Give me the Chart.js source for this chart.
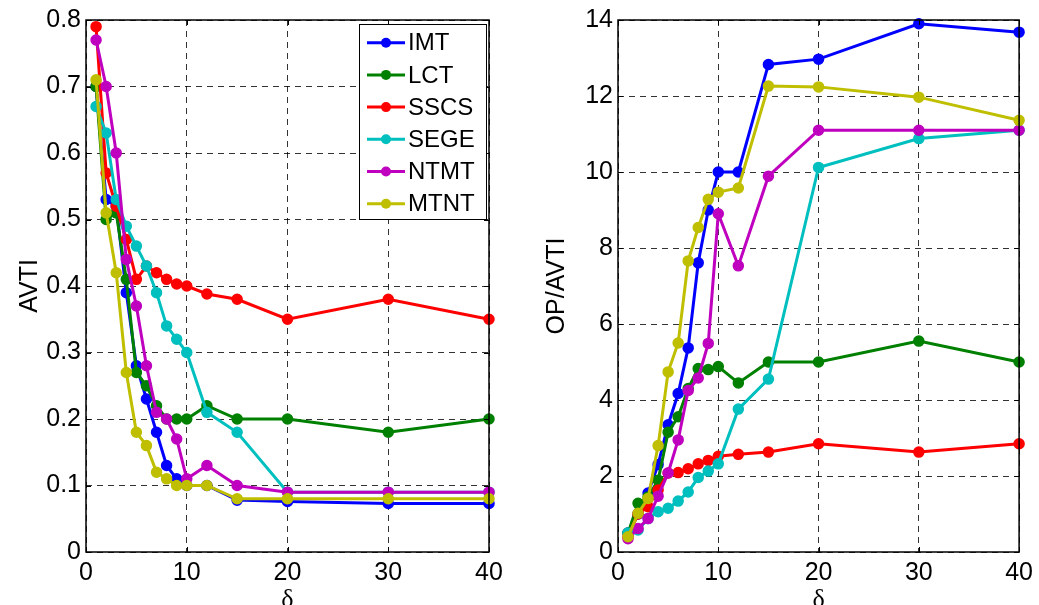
<!DOCTYPE html>
<html>
<head>
<meta charset="utf-8">
<script src="https://cdn.jsdelivr.net/npm/chart.js@4.4.0/dist/chart.umd.min.js"></script>
<style>
  body { margin: 0; background: #fff; }
  #wrap { position: relative; width: 1039px; height: 605px; overflow: hidden; }
  #wrap canvas { position: absolute; top: 0; }
</style>
</head>
<body>
<div id="wrap">
  <canvas id="avtiChart" width="519" height="605" style="left:0"></canvas>
  <canvas id="ratioChart" width="520" height="605" style="left:519px"></canvas>
</div>
<script>
// delta values on the x axis
const delta = [1, 2, 3, 4, 5, 6, 7, 8, 9, 10, 12, 15, 20, 30, 40];
const methods = ['IMT', 'LCT', 'SSCS', 'SEGE', 'NTMT', 'MTNT'];
const colors = ['#0000ff', '#008000', '#ff0000', '#00bfbf', '#bf00bf', '#bfbf00'];

// AVTI per method
const avtiIMT  = [0.70, 0.53, 0.52, 0.39, 0.28, 0.23, 0.18, 0.13, 0.11, 0.10, 0.10, 0.078, 0.076, 0.073, 0.073];
const avtiLCT  = [0.70, 0.50, 0.51, 0.41, 0.27, 0.25, 0.22, 0.20, 0.20, 0.20, 0.22, 0.20, 0.20, 0.18, 0.20];
const avtiSSCS = [0.79, 0.57, 0.52, 0.47, 0.41, 0.43, 0.42, 0.41, 0.403, 0.40, 0.388, 0.38, 0.35, 0.38, 0.35];
const avtiSEGE = [0.67, 0.63, 0.53, 0.49, 0.46, 0.43, 0.39, 0.34, 0.32, 0.30, 0.21, 0.18, 0.09, 0.09, 0.09];
const avtiNTMT = [0.77, 0.70, 0.60, 0.44, 0.37, 0.28, 0.21, 0.20, 0.17, 0.11, 0.13, 0.10, 0.09, 0.09, 0.09];
const avtiMTNT = [0.71, 0.51, 0.42, 0.27, 0.18, 0.16, 0.12, 0.11, 0.10, 0.10, 0.10, 0.08, 0.08, 0.08, 0.08];

// OP/AVTI per method
const ratioIMT  = [0.50, 1.00, 1.55, 2.30, 3.35, 4.17, 5.37, 7.61, 9.00, 10.00, 10.00, 12.83, 12.97, 13.90, 13.68];
const ratioLCT  = [0.50, 1.28, 1.45, 1.89, 3.15, 3.56, 4.30, 4.83, 4.80, 4.88, 4.45, 5.00, 5.00, 5.55, 5.00];
const ratioSSCS = [0.40, 1.00, 1.19, 1.63, 2.08, 2.09, 2.19, 2.32, 2.41, 2.52, 2.57, 2.63, 2.85, 2.63, 2.85];
const ratioSEGE = [0.50, 0.58, 0.88, 1.06, 1.15, 1.34, 1.58, 1.96, 2.13, 2.32, 3.76, 4.55, 10.12, 10.88, 11.10];
const ratioNTMT = [0.35, 0.62, 0.88, 1.47, 2.08, 2.95, 4.25, 4.58, 5.49, 8.90, 7.53, 9.89, 11.10, 11.10, 11.10];
const ratioMTNT = [0.40, 1.02, 1.41, 2.80, 4.74, 5.50, 7.66, 8.54, 9.28, 9.47, 9.58, 12.26, 12.24, 11.97, 11.36];

const avtiSeries = [avtiIMT, avtiLCT, avtiSSCS, avtiSEGE, avtiNTMT, avtiMTNT];
const ratioSeries = [ratioIMT, ratioLCT, ratioSSCS, ratioSEGE, ratioNTMT, ratioMTNT];

const sans = 'Liberation Sans, Arial, sans-serif';

function makeDatasets(series) {
    return series.map(function (values, i) {
        return {
            label: methods[i],
            data: values.map(function (v, k) { return {x: delta[k], y: v}; }),
            borderColor: colors[i],
            backgroundColor: colors[i],
            pointBackgroundColor: colors[i],
            borderWidth: 3,
            pointRadius: 5,
            pointBorderWidth: 1.5,
            fill: false,
            clip: false,
            order: series.length - 1 - i
        };
    });
}

// box around the plot area plus inward tick marks on every side
const frame = {
    id: 'frame',
    afterDraw(chart) {
        const ctx = chart.ctx;
        const a = chart.chartArea;
        const sx = chart.scales.x, sy = chart.scales.y;
        ctx.save();
        ctx.strokeStyle = '#000';
        ctx.lineWidth = 1;
        ctx.beginPath();
        sx.ticks.forEach(function (t) {
            const px = Math.round(sx.getPixelForValue(t.value)) + 0.5;
            ctx.moveTo(px, a.bottom); ctx.lineTo(px, a.bottom - 5);
            ctx.moveTo(px, a.top); ctx.lineTo(px, a.top + 5);
        });
        sy.ticks.forEach(function (t) {
            const py = Math.round(sy.getPixelForValue(t.value)) + 0.5;
            ctx.moveTo(a.left, py); ctx.lineTo(a.left + 5, py);
            ctx.moveTo(a.right, py); ctx.lineTo(a.right - 5, py);
        });
        ctx.stroke();
        ctx.lineWidth = 1.5;
        ctx.strokeRect(a.left, a.top, a.right - a.left, a.bottom - a.top);
        ctx.restore();
    }
};

// legend box in the upper right of the AVTI plot
const legendBox = {
    id: 'legendBox',
    afterDraw(chart) {
        const ctx = chart.ctx;
        const x = 359, y = 24, w = 127, h = 195, row = 32.2;
        ctx.save();
        ctx.fillStyle = '#fff';
        ctx.fillRect(x, y, w, h);
        ctx.strokeStyle = '#000';
        ctx.lineWidth = 1;
        ctx.strokeRect(x + 0.5, y + 0.5, w, h);
        ctx.font = '24px ' + sans;
        ctx.textBaseline = 'middle';
        chart.data.datasets.forEach(function (ds, i) {
            const cy = y + 18.7 + i * row;
            ctx.strokeStyle = ds.borderColor;
            ctx.lineWidth = 3;
            ctx.beginPath();
            ctx.moveTo(x + 8, cy);
            ctx.lineTo(x + 46, cy);
            ctx.stroke();
            ctx.fillStyle = ds.borderColor;
            ctx.beginPath();
            ctx.arc(x + 27, cy, 5, 0, Math.PI * 2);
            ctx.fill();
            ctx.fillStyle = '#000';
            ctx.fillText(ds.label, x + 49, cy + 1);
        });
        ctx.restore();
    }
};

function makeOptions(yMax, yStep, yTitle, yWidth, titlePad, rightPad) {
    return {
        responsive: false,
        animation: false,
        devicePixelRatio: 1,
        layout: { padding: { top: 17, right: rightPad, bottom: 0, left: 0 } },
        plugins: { legend: { display: false }, tooltip: { enabled: false } },
        scales: {
            x: {
                type: 'linear',
                min: 0,
                max: 40,
                ticks: { stepSize: 10, color: '#000', padding: 6, font: { family: sans, size: 25 } },
                grid: { color: 'rgba(0,0,0,0.8)', lineWidth: 1, drawTicks: false },
                border: { display: false, dash: [6, 5] },
                title: {
                    display: true, text: 'δ', color: '#000',
                    font: { family: 'Liberation Serif, serif', size: 26, lineHeight: 0.4 },
                    padding: { top: 0, bottom: 0 }
                },
                afterFit: function (s) { s.height = 53; }
            },
            y: {
                min: 0,
                max: yMax,
                ticks: { stepSize: yStep, color: '#000', padding: 5, font: { family: sans, size: 25 } },
                grid: { color: 'rgba(0,0,0,0.8)', lineWidth: 1, drawTicks: false },
                border: { display: false, dash: [6, 5] },
                title: {
                    display: true, text: yTitle, color: '#000',
                    font: { family: sans, size: 25, lineHeight: 1.2 },
                    padding: { top: titlePad, bottom: 0 }
                },
                afterFit: function (s) { s.width = yWidth; }
            }
        }
    };
}

function generateCharts() {
    new Chart(document.getElementById('avtiChart'), {
        type: 'line',
        data: { datasets: makeDatasets(avtiSeries) },
        options: makeOptions(0.8, 0.1, 'AVTI', 86, 15, 30),
        plugins: [frame, legendBox]
    });

    new Chart(document.getElementById('ratioChart'), {
        type: 'line',
        data: { datasets: makeDatasets(ratioSeries) },
        options: makeOptions(14, 2, 'OP/AVTI', 99, 23, 17),
        plugins: [frame]
    });
}

generateCharts();
</script>
</body>
</html>
